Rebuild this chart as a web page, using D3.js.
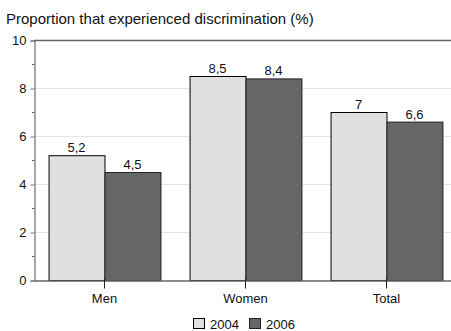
<!DOCTYPE html>
<html>
<head>
<meta charset="utf-8">
<script src="https://cdn.jsdelivr.net/npm/d3@7/dist/d3.min.js"></script>
<style>
  html, body { margin: 0; padding: 0; background: #fff; }
  svg { display: block; font-family: "Liberation Sans", Arial, sans-serif; }
</style>
</head>
<body>
<svg id="chart" width="451" height="331"></svg>
<script>
const categories = ["Men", "Women", "Total"];
const years = ["2004", "2006"];
const values2004 = [5.2, 8.5, 7.0];
const values2006 = [4.5, 8.4, 6.6];
const valueLabels2004 = ["5,2", "8,5", "7"];
const valueLabels2006 = ["4,5", "8,4", "6,6"];
const yTicks = [0, 2, 4, 6, 8, 10];
const yMinorTicks = [1, 3, 5, 7, 9];

const colors = { "2004": "#e0e0e0", "2006": "#666666" };
const strokes = { "2004": "#000000", "2006": "#222222" };

const svg = d3.select("#chart");
const margin = { left: 34, top: 40, bottom: 280 };
const plotRight = 457;

const x = d3.scaleBand().domain(categories).range([margin.left, plotRight]).paddingInner(0).paddingOuter(0);
const x1 = d3.scaleBand().domain(years).range([0, x.bandwidth()]).paddingInner(0).paddingOuter(0.26);
const y = d3.scaleLinear().domain([0, 10]).range([margin.bottom, margin.top]);

// Title
svg.append("text")
  .attr("x", 6).attr("y", 24)
  .attr("font-size", 15).attr("fill", "#111")
  .text("Proportion that experienced discrimination (%)");

// Gridlines
svg.append("g").selectAll("line")
  .data(yTicks.filter(d => d > 0 && d < 10))
  .join("line")
  .attr("x1", margin.left).attr("x2", plotRight)
  .attr("y1", d => y(d) + 0.5).attr("y2", d => y(d) + 0.5)
  .attr("stroke", "#e4e4e4").attr("stroke-width", 1);

// Top border
svg.append("line")
  .attr("x1", margin.left).attr("x2", plotRight)
  .attr("y1", y(10) + 0.5).attr("y2", y(10) + 0.5)
  .attr("stroke", "#666").attr("stroke-width", 1.5);

// Bars
const data = categories.map((c, i) => ({
  cat: c,
  series: [
    { year: "2004", v: values2004[i], label: valueLabels2004[i] },
    { year: "2006", v: values2006[i], label: valueLabels2006[i] }
  ]
}));

const groups = svg.append("g").selectAll("g")
  .data(data).join("g")
  .attr("transform", d => `translate(${x(d.cat)},0)`);

groups.selectAll("rect")
  .data(d => d.series).join("rect")
  .attr("x", d => x1(d.year) + 0.5)
  .attr("y", d => y(d.v) + 0.5)
  .attr("width", x1.bandwidth())
  .attr("height", d => y(0) - y(d.v))
  .attr("fill", d => colors[d.year])
  .attr("stroke", d => strokes[d.year])
  .attr("stroke-width", 1);

groups.selectAll("text")
  .data(d => d.series).join("text")
  .attr("x", d => x1(d.year) + x1.bandwidth() / 2)
  .attr("y", d => y(d.v) - 3)
  .attr("text-anchor", "middle")
  .attr("font-size", 13).attr("fill", "#111")
  .text(d => d.label);

// Y axis
const yAxis = d3.axisLeft(y).tickValues(yTicks).tickSize(4).tickPadding(4);
const gy = svg.append("g")
  .attr("transform", `translate(${margin.left + 0.5},0.5)`)
  .call(yAxis);
gy.select(".domain").attr("stroke", "#555");
gy.selectAll(".tick line").attr("stroke", "#777");
gy.selectAll(".tick text").attr("font-size", 13).attr("fill", "#111")
  .attr("font-family", "Liberation Sans, Arial, sans-serif");

// Minor ticks
svg.append("g").selectAll("line")
  .data(yMinorTicks).join("line")
  .attr("x1", margin.left - 2).attr("x2", margin.left + 0.5)
  .attr("y1", d => y(d) + 0.5).attr("y2", d => y(d) + 0.5)
  .attr("stroke", "#555");

// X axis
const xAxis = d3.axisBottom(x).tickSize(0).tickPadding(0);
const gx = svg.append("g")
  .attr("transform", `translate(0,${margin.bottom + 0.5})`)
  .call(xAxis);
gx.select(".domain").attr("stroke", "#666").attr("stroke-width", 1.5);
gx.selectAll(".tick text").attr("font-size", 13).attr("fill", "#111")
  .attr("dy", 0).attr("y", 22)
  .attr("font-family", "Liberation Sans, Arial, sans-serif");
gx.selectAll(".tick").append("line")
  .attr("x1", 0).attr("x2", 0).attr("y1", -2).attr("y2", 8)
  .attr("stroke", "#222");

// Legend
const legendItems = [
  { year: "2004", x: 193 },
  { year: "2006", x: 249 }
];
const lg = svg.append("g").selectAll("g").data(legendItems).join("g")
  .attr("transform", d => `translate(${d.x},0)`);
lg.append("rect")
  .attr("x", 0.5).attr("y", 318.5).attr("width", 11).attr("height", 10)
  .attr("fill", d => colors[d.year]).attr("stroke", d => strokes[d.year]);
lg.append("text")
  .attr("x", 17).attr("y", 329)
  .attr("font-size", 13).attr("fill", "#111")
  .text(d => d.year);
</script>
</body>
</html>
